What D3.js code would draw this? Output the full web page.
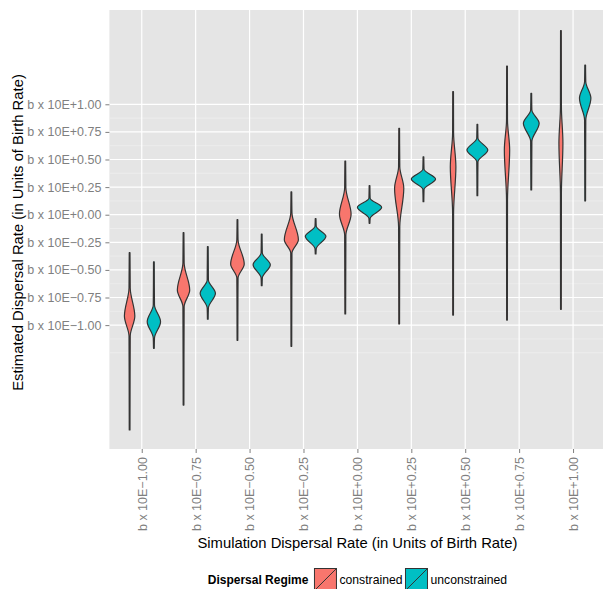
<!DOCTYPE html>
<html>
<head>
<meta charset="utf-8">
<script src="https://cdn.jsdelivr.net/npm/d3@7"></script>
<style>
  body { margin: 0; background: #fff; }
  svg { display: block; font-family: "Liberation Sans", Arial, Helvetica, sans-serif; }
</style>
</head>
<body>
<div id="chart"></div>
<script>
// Categories on the x axis (simulated dispersal rate) and y tick labels
const xLabels = ["b x 10E\u22121.00", "b x 10E\u22120.75", "b x 10E\u22120.50", "b x 10E\u22120.25",
  "b x 10E+0.00", "b x 10E+0.25", "b x 10E+0.50", "b x 10E+0.75", "b x 10E+1.00"];
const yTickValues = [-1, -0.75, -0.5, -0.25, 0, 0.25, 0.5, 0.75, 1];
const yTickLabels = xLabels;
const yMinorBreaks = [-1.25, -1.125, -0.875, -0.625, -0.375, -0.125, 0.125, 0.375, 0.625, 0.875];
const regimes = ["constrained", "unconstrained"];
const regimeColors = ["#F8766D", "#00BFC4"];

// violin outlines: [log10 estimate, relative density]
const constrainedProfiles = [
  [[-0.344, 0.03], [-0.664, 0.05], [-0.918, 0.43], [-1.099, 0.05], [-1.950, 0.03]],
  [[-0.163, 0.03], [-0.438, 0.05], [-0.682, 0.51], [-0.833, 0.05], [-1.724, 0.03]],
  [[-0.045, 0.03], [-0.226, 0.05], [-0.447, 0.56], [-0.573, 0.05], [-1.138, 0.03]],
  [[0.206, 0.03], [0.015, 0.05], [-0.226, 0.58], [-0.347, 0.05], [-1.192, 0.03]],
  [[0.486, 0.03], [0.242, 0.05], [0.004, 0.48], [-0.184, 0.05], [-0.899, 0.03]],
  [[0.783, 0.03], [0.435, 0.05], [0.239, 0.38], [-0.109, 0.05], [-0.990, 0.03]],
  [[1.114, 0.03], [0.740, 0.04], [0.435, 0.23], [0.015, 0.04], [-0.909, 0.03]],
  [[1.347, 0.03], [0.858, 0.04], [0.586, 0.22], [0.133, 0.04], [-0.954, 0.03]],
  [[1.667, 0.03], [0.978, 0.04], [0.647, 0.165], [0.197, 0.04], [-0.857, 0.03]]
];
const unconstrainedProfiles = [
  [[-0.426, 0.03], [-0.818, 0.05], [-0.969, 0.55], [-1.117, 0.05], [-1.210, 0.03]],
  [[-0.290, 0.03], [-0.591, 0.05], [-0.712, 0.63], [-0.845, 0.05], [-0.947, 0.03]],
  [[-0.175, 0.03], [-0.347, 0.05], [-0.453, 0.71], [-0.573, 0.05], [-0.643, 0.03]],
  [[-0.036, 0.03], [-0.105, 0.05], [-0.196, 0.85], [-0.308, 0.05], [-0.356, 0.03]],
  [[0.263, 0.03], [0.149, 0.05], [0.067, 1.00], [-0.033, 0.05], [-0.078, 0.03]],
  [[0.525, 0.03], [0.411, 0.05], [0.323, 1.00], [0.230, 0.05], [0.118, 0.03]],
  [[0.819, 0.03], [0.692, 0.05], [0.586, 0.86], [0.480, 0.05], [0.172, 0.03]],
  [[1.100, 0.03], [0.948, 0.05], [0.828, 0.65], [0.664, 0.05], [0.224, 0.03]],
  [[1.356, 0.03], [1.205, 0.05], [1.054, 0.47], [0.858, 0.05], [0.124, 0.03]]
];
const yDomain = [-2.122, 1.854];

const width = 603, height = 589;
const panel = { left: 109.4, right: 605.4, top: 10, bottom: 449 };

const svg = d3.select('#chart').append('svg')
  .attr('width', width)
  .attr('height', height);

svg.append('rect').attr('width', width).attr('height', height).attr('fill', '#fff');

// scales
const x = d3.scalePoint()
  .domain(xLabels)
  .range([panel.left, panel.right])
  .padding(0.6);
const step = x.step();

const dodge = d3.scaleBand()
  .domain(regimes)
  .range([-0.45 * step, 0.45 * step]);

const halfWidth = d3.scaleLinear()
  .domain([0, 1])
  .range([0, dodge.bandwidth() / 2]);

const y = d3.scaleLinear()
  .domain(yDomain)
  .range([panel.bottom, panel.top]);

const color = d3.scaleOrdinal().domain(regimes).range(regimeColors);

// panel background
svg.append('rect')
  .attr('x', panel.left)
  .attr('y', panel.top)
  .attr('width', panel.right - panel.left)
  .attr('height', panel.bottom - panel.top)
  .attr('fill', '#E5E5E5');

const grid = svg.append('g');
grid.selectAll('.minor')
  .data(yMinorBreaks)
  .join('line')
  .attr('x1', panel.left).attr('x2', panel.right)
  .attr('y1', d => y(d)).attr('y2', d => y(d))
  .attr('stroke', '#F2F2F2')
  .attr('stroke-width', 0.6);
grid.selectAll('.major-y')
  .data(yTickValues)
  .join('line')
  .attr('x1', panel.left).attr('x2', panel.right)
  .attr('y1', d => y(d)).attr('y2', d => y(d))
  .attr('stroke', '#fff')
  .attr('stroke-width', 1.2);
grid.selectAll('.major-x')
  .data(xLabels)
  .enter().append('line')
  .attr('x1', d => x(d)).attr('x2', d => x(d))
  .attr('y1', panel.top).attr('y2', panel.bottom)
  .attr('stroke', '#fff')
  .attr('stroke-width', 1.2);

// violins
const violins = [];
xLabels.forEach((cat, i) => {
  violins.push({ cat, regime: regimes[0], profile: constrainedProfiles[i] });
  violins.push({ cat, regime: regimes[1], profile: unconstrainedProfiles[i] });
});

svg.append('g')
  .selectAll('path')
  .data(violins)
  .join('path')
  .attr('d', v => {
    const cx = x(v.cat) + dodge(v.regime) + dodge.bandwidth() / 2;
    return d3.area()
      .curve(d3.curveMonotoneY)
      .y(d => y(d[0]))
      .x0(d => cx - halfWidth(d[1]))
      .x1(d => cx + halfWidth(d[1]))(v.profile);
  })
  .attr('fill', v => color(v.regime))
  .attr('stroke', '#333333')
  .attr('stroke-width', 1.2)
  .attr('stroke-linejoin', 'round');

// y axis
const yAxis = svg.append('g')
  .attr('transform', `translate(${panel.left},0)`)
  .call(d3.axisLeft(y)
    .tickValues(yTickValues)
    .tickFormat((d, i) => yTickLabels[i])
    .tickSize(4)
    .tickPadding(4));
yAxis.select('.domain').remove();
yAxis.selectAll('.tick line').attr('stroke', '#7F7F7F');
yAxis.selectAll('.tick text')
  .attr('fill', '#7F7F7F')
  .style('font-size', '12.5px')
  .style('font-family', '"Liberation Sans", Arial, sans-serif');

// x axis
const xAxis = svg.append('g')
  .attr('transform', `translate(0,${panel.bottom})`)
  .call(d3.axisBottom(x).tickSize(4).tickPadding(3));
xAxis.select('.domain').remove();
xAxis.selectAll('.tick line').attr('stroke', '#7F7F7F');
xAxis.selectAll('.tick text')
  .attr('fill', '#7F7F7F')
  .style('font-size', '12.5px')
  .style('font-family', '"Liberation Sans", Arial, sans-serif')
  .attr('text-anchor', 'end')
  .attr('transform', 'rotate(-90)')
  .attr('x', -8)
  .attr('y', 0)
  .attr('dy', '0.35em');

// axis titles
const panelCx = (panel.left + panel.right) / 2;
svg.append('text')
  .attr('x', panelCx)
  .attr('y', 548)
  .attr('text-anchor', 'middle')
  .style('font-size', '14.8px')
  .text('Simulation Dispersal Rate (in Units of Birth Rate)');

svg.append('text')
  .attr('transform', `translate(23,${(panel.top + panel.bottom) / 2 + 3}) rotate(-90)`)
  .attr('text-anchor', 'middle')
  .style('font-size', '14.8px')
  .text('Estimated Dispersal Rate (in Units of Birth Rate)');

// legend
const legend = svg.append('g');
const legendY = 579.5;
const keySize = 22;
const title = legend.append('text')
  .attr('y', legendY)
  .attr('dy', '0.35em')
  .style('font-size', '12px')
  .style('font-weight', 'bold')
  .text('Dispersal Regime');
let cursor = title.node().getComputedTextLength() + 6;
regimes.forEach((r, i) => {
  const g = legend.append('g');
  g.append('rect')
    .attr('x', cursor).attr('y', legendY - keySize / 2)
    .attr('width', keySize).attr('height', keySize)
    .attr('fill', regimeColors[i])
    .attr('stroke', '#333333')
    .attr('stroke-width', 1);
  g.append('line')
    .attr('x1', cursor).attr('y1', legendY + keySize / 2)
    .attr('x2', cursor + keySize).attr('y2', legendY - keySize / 2)
    .attr('stroke', '#333333')
    .attr('stroke-width', 1);
  cursor += keySize + 3;
  const t = g.append('text')
    .attr('x', cursor)
    .attr('y', legendY)
    .attr('dy', '0.35em')
    .style('font-size', '12.2px')
    .text(r);
  cursor += t.node().getComputedTextLength() + 3;
});
const legendWidth = cursor - 3;
legend.attr('transform', `translate(${panelCx - legendWidth / 2},0)`);
</script>
</body>
</html>
